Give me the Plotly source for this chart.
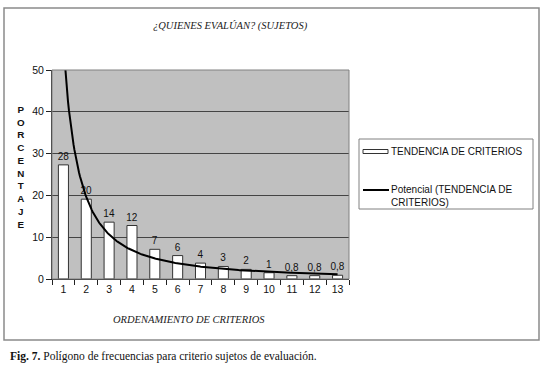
import numpy as np
import plotly.graph_objects as go

# ---- data ----
criterios = list(range(1, 14))
porcentaje = [27.3, 19.1, 13.6, 12.8, 7.1, 5.6, 3.8, 3.0, 2.3, 1.5, 0.8, 0.8, 0.9]
etiquetas = ["28", "20", "14", "12", "7", "6", "4", "3", "2", "1", "0,8", "0,8", "0,8"]
y_ticks = [0, 10, 20, 30, 40, 50]

titulo = "¿QUIENES EVALÚAN? (SUJETOS)"
eje_x = "ORDENAMIENTO DE CRITERIOS"
eje_y = "PORCENTAJE"
serie = "TENDENCIA DE CRITERIOS"
tendencia = "Potencial (TENDENCIA DE<br>CRITERIOS)"
pie = "<b>Fig. 7.</b> Polígono de frecuencias para criterio sujetos de evaluación."

# power trendline (least squares in log-log space, like a spreadsheet "Potencial" fit)
b, ln_a = np.polyfit(np.log(criterios), np.log(porcentaje), 1)
xt = np.linspace(1, 13, 300)
yt = np.exp(ln_a) * xt ** b

W, H = 546, 376
L, R, T, B = 52, 349, 70, 279

SANS = "Liberation Sans, Arial"
SERIF = "Liberation Serif, Times New Roman"


def px(x):
    return (x - L) / (R - L)


def py(y):
    return (B - y) / (B - T)


fig = go.Figure()
fig.add_trace(go.Bar(
    x=criterios, y=porcentaje, text=etiquetas, textposition="outside",
    constraintext="none",
    textfont=dict(family=SANS, size=10, color="#111"),
    marker=dict(color="white", line=dict(color="#333", width=1)),
    cliponaxis=False, showlegend=False,
))
fig.add_trace(go.Scatter(
    x=xt, y=yt, mode="lines", line=dict(color="black", width=2),
    showlegend=False, hoverinfo="skip",
))

shapes = [
    dict(type="rect", xref="paper", yref="paper", x0=px(4), x1=px(539), y0=py(340), y1=py(8),
         line=dict(color="#8a8a8a", width=1.5), layer="below"),
    dict(type="rect", xref="paper", yref="paper", x0=0, x1=1, y0=0, y1=1,
         line=dict(color="#808080", width=1)),
    dict(type="rect", xref="paper", yref="paper", x0=px(359), x1=px(533), y0=py(209), y1=py(139),
         line=dict(color="#808080", width=1), fillcolor="white"),
    dict(type="rect", xref="paper", yref="paper", x0=px(363), x1=px(388), y0=py(153.5), y1=py(149.5),
         line=dict(color="#333", width=1), fillcolor="white"),
    dict(type="line", xref="paper", yref="paper", x0=px(363), x1=px(389), y0=py(190), y1=py(190),
         line=dict(color="black", width=2)),
]

ann = [
    dict(text=f"<i>{titulo}</i>", x=px(230), y=py(26),
         font=dict(family=SERIF, size=10.5, color="#222"), xanchor="center"),
    dict(text=f"<i>{eje_x}</i>", x=px(189), y=py(319),
         font=dict(family=SERIF, size=10.5, color="#222"), xanchor="center"),
    dict(text="<b>" + "<br>".join(list(eje_y)) + "</b>", x=px(21), y=py(166.5),
         font=dict(family=SANS, size=9.8, color="#111"), xanchor="center"),
    dict(text=serie, x=px(389), y=py(151.5),
         font=dict(family=SANS, size=10, color="#111"), xanchor="left"),
    dict(text=tendencia, x=px(389), y=py(196), align="left",
         font=dict(family=SANS, size=10, color="#111"), xanchor="left"),
    dict(text=pie, x=px(8), y=py(356),
         font=dict(family=SERIF, size=11.5, color="#111"), xanchor="left"),
]
for a in ann:
    a.update(xref="paper", yref="paper", showarrow=False, yanchor="middle")

fig.update_layout(
    width=W, height=H,
    margin=dict(l=L, r=W - R, t=T, b=H - B),
    paper_bgcolor="white", plot_bgcolor="#C0C0C0",
    bargap=0.56,
    shapes=shapes, annotations=ann,
    xaxis=dict(range=[0.5, 13.5], tickvals=criterios, ticks="", ticklen=0,
               showgrid=False, zeroline=False, showline=True, linecolor="#222",
               tickfont=dict(family=SANS, size=10.5, color="#111"),
               minor=dict(tick0=0.5, dtick=1, ticks="outside", ticklen=5,
                          tickcolor="#222", showgrid=False)),
    yaxis=dict(range=[0, 50], tickvals=y_ticks, ticks="outside", ticklen=5, tickcolor="#222",
               showgrid=True, gridcolor="#444", gridwidth=1, zeroline=False,
               showline=True, linecolor="#222",
               tickfont=dict(family=SANS, size=10.5, color="#111")),
    font=dict(family=SANS),
)

fig.write_html("out.html", config={"displayModeBar": False},
               post_script="document.body.style.margin='0';")
